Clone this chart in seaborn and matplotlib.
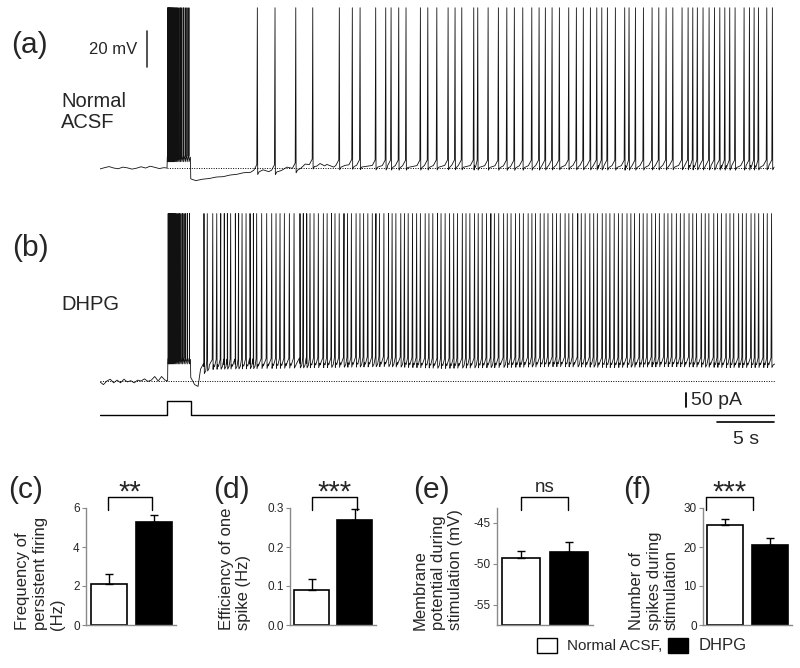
"""
Persistent firing traces (a, b) plus summary bar charts (c-f).
"""

import numpy as np
import pandas as pd
import matplotlib
matplotlib.use("Agg")
import matplotlib.pyplot as plt
import seaborn as sns
from matplotlib.lines import Line2D
from matplotlib.patches import Rectangle

# ---------------- trace data (time in s, voltage in mV) ----------------
T_END = 59.2
STIM_ON, STIM_OFF = 5.9, 7.95
STIM_PA = 50
REST_MV = -60

# (a) Normal ACSF
wave_a_t = [0, 0.4, 0.8, 1.2, 1.6, 2.0, 2.4, 2.8, 3.2, 3.6, 4.0, 4.4, 4.8, 5.2, 5.6, 5.88,
            5.9, 7.93, 7.96, 8.4, 9.0, 9.6, 10.2, 10.8, 11.4, 12.0, 12.6, 13.2, 14.3,
            14.8, 15.9, 16.4, 16.9, 17.6, 18.0, 19.0, 19.3, 19.7, 19.9, 20.5, 21.5,
            23.0, 27.0, 31.0, 36.0, 41.0, 46.0, 51.0, 56.0, 59.2]
wave_a_v = [-60.5, -59.8, -59.2, -60.0, -60.4, -59.5, -59.9, -60.6, -60.1, -59.3, -60.0,
            -59.0, -59.6, -60.3, -59.8, -60.0,
            -54.0, -54.0, -66.0, -67.0, -66.2, -65.8, -65.0, -64.8, -63.9, -63.5, -62.6,
            -62.4, -61.0, -62.0, -61.4, -59.5, -61.0, -60.2, -57.8, -59.0, -57.5, -58.8,
            -58.0, -59.5, -58.5, -59.0, -59.2, -59.0, -59.3, -59.0, -59.2,
            -59.0, -59.2, -59.0]
burst_a = [5.93, 5.99, 6.05, 6.11, 6.17, 6.24, 6.31, 6.38, 6.46, 6.54, 6.63, 6.72,
           6.82, 6.93, 7.05, 7.18, 7.32, 7.47, 7.63, 7.80]
spikes_a = [13.80, 15.35, 17.17, 18.66, 20.99, 22.13, 22.81, 24.18, 25.06, 25.53,
            26.20, 26.84, 28.10, 28.75, 29.54, 30.53, 31.14, 31.73, 32.78, 33.13,
            34.04, 34.94, 35.68, 36.34, 37.08, 37.87, 38.51, 39.06, 39.65, 40.29,
            41.11, 41.78, 42.39, 43.01, 43.57, 44.01, 44.50, 45.20, 46.02, 46.40,
            46.96, 47.66, 48.42, 49.01, 49.65, 50.24, 51.05, 51.58, 51.99, 52.39,
            52.89, 53.42, 53.89, 54.36, 54.80, 55.23, 55.70, 56.49, 56.96, 57.37,
            57.75, 58.48, 58.97]
peak_a = 29

# (b) DHPG
wave_b_t = [0, 0.3, 0.6, 0.9, 1.2, 1.5, 1.8, 2.1, 2.4, 2.7, 3.0, 3.3, 3.6, 3.9, 4.2,
            4.5, 4.8, 5.1, 5.4, 5.7, 5.93,
            5.95, 7.93, 7.96, 8.3, 8.6, 8.9, 9.1, 9.5, 10.0, 15.0, 20.0, 25.0, 30.0,
            35.0, 40.0, 45.0, 50.0, 55.0, 59.2]
wave_b_v = [-60.5, -62.0, -60.0, -59.0, -61.0, -59.5, -61.0, -59.0, -60.5, -59.8,
            -61.0, -59.5, -60.0, -58.8, -60.2, -59.5, -57.5, -60.0, -57.5, -59.5, -60.0,
            -48.0, -48.0, -58.0, -62.0, -63.0, -61.0, -54.0, -52.0, -51.5, -51.0,
            -50.5, -50.0, -51.0, -50.5, -50.0, -50.5, -50.0, -50.5, -50.5]
burst_b = [5.98, 6.04, 6.10, 6.17, 6.24, 6.31, 6.39, 6.47, 6.56, 6.65, 6.75, 6.86,
           6.98, 7.10, 7.23, 7.37, 7.52, 7.68, 7.85]
spikes_b = [9.12, 9.41, 9.89, 10.24, 10.59, 10.90, 11.17, 11.46, 11.87, 12.16, 12.46,
            12.81, 13.16, 13.45, 13.74, 14.18, 14.62, 15.06, 15.44, 15.79, 16.17,
            16.61, 17.02, 17.54, 17.83, 18.13, 18.42, 18.77, 19.15, 19.59, 19.92,
            20.30, 20.61, 20.98, 21.40, 21.71, 22.05, 22.46, 22.80, 23.12, 23.49,
            23.88, 24.20, 24.51, 24.90, 25.31, 25.62, 25.95, 26.38, 26.70, 27.03,
            27.41, 27.77, 28.10, 28.52, 28.85, 29.19, 29.60, 29.91, 30.27, 30.66,
            31.02, 31.35, 31.78, 32.10, 32.44, 32.85, 33.17, 33.52, 33.90, 34.28,
            34.59, 34.97, 35.40, 35.72, 36.05, 36.44, 36.80, 37.13, 37.55, 37.88,
            38.20, 38.61, 38.95, 39.29, 39.70, 40.04, 40.37, 40.79, 41.12, 41.46,
            41.90, 42.21, 42.55, 42.96, 43.30, 43.62, 44.05, 44.38, 44.72, 45.10,
            45.47, 45.80, 46.22, 46.56, 46.88, 47.31, 47.64, 47.98, 48.39, 48.72,
            49.06, 49.48, 49.81, 50.15, 50.55, 50.90, 51.23, 51.66, 51.99, 52.32,
            52.74, 53.08, 53.40, 53.83, 54.16, 54.50, 54.91, 55.25, 55.58, 56.01,
            56.34, 56.68, 57.10, 57.43, 57.77, 58.19, 58.52, 58.90]
peak_b = 33

# ---------------- bar data (mean, SEM) ----------------
groups = ["Normal ACSF", "DHPG"]
freq_mean, freq_sem = [2.1, 5.3], [0.5, 0.35]
eff_mean, eff_sem = [0.09, 0.27], [0.028, 0.027]
vm_mean, vm_sem = [-49.35, -48.6], [0.85, 1.3]
nspk_mean, nspk_sem = [25.6, 20.4], [1.5, 2.0]

W, H = 800, 668

sns.set_style("white")
plt.rcParams["font.family"] = ["Liberation Sans", "DejaVu Sans"]

fig = plt.figure(figsize=(W / 100, H / 100), dpi=100)


def px_axes(left, top, right, bottom):
    return fig.add_axes([left / W, 1 - bottom / H, (right - left) / W, (bottom - top) / H])


def fx(x):
    return x / W


def fy(y):
    return 1 - y / H


def build_trace(wt, wv, spikes, burst, peak):
    """Combine slow waveform points with spike shapes into one polyline."""
    wt = np.asarray(wt, float)
    wv = np.asarray(wv, float)
    sp = np.asarray(spikes, float)
    keep = np.array([np.all(np.abs(sp - t) > 0.3) for t in wt])
    t_pts = list(wt[keep])
    v_pts = list(wv[keep])
    for s in sp:
        b = np.interp(s, wt, wv)
        for dt, dv in [(-0.3, 0.5), (-0.05, 3.5), (0, None), (0.03, -2.0), (0.15, -0.5)]:
            t_pts.append(s + dt)
            v_pts.append(peak if dv is None else b + dv)
    for s in burst:
        b = np.interp(s, wt, wv)
        for dt, dv in [(-0.008, 1.0), (0, None), (0.008, -2.5)]:
            t_pts.append(s + dt)
            v_pts.append(peak if dv is None else b + dv)
    t_pts = np.array(t_pts)
    v_pts = np.array(v_pts)
    order = np.argsort(t_pts, kind="stable")
    return t_pts[order], v_pts[order]


# ---------------- trace (a) ----------------
ax_a = px_axes(100, 0, 775, 190)
ta, va = build_trace(wave_a_t, wave_a_v, spikes_a, burst_a, peak_a)
sns.lineplot(x=ta, y=va, ax=ax_a, color="#111111", lw=0.6, sort=False, estimator=None)
ax_a.hlines(REST_MV, STIM_ON, T_END, colors="black", linestyles=(0, (1, 1.5)), lw=0.7)
ax_a.set_xlim(0, T_END)
ax_a.set_ylim(-72.2, 33.3)
ax_a.plot([4.12, 4.12], [-4, 16], color="#333333", lw=1.2, clip_on=False)
ax_a.text(3.3, 6, "20 mV", ha="right", va="center", fontsize=12)
ax_a.axis("off")

# ---------------- trace (b) ----------------
ax_b = px_axes(100, 195, 775, 392)
tb, vb = build_trace(wave_b_t, wave_b_v, spikes_b, burst_b, peak_b)
sns.lineplot(x=tb, y=vb, ax=ax_b, color="#111111", lw=0.6, sort=False, estimator=None)
ax_b.hlines(REST_MV, 0, T_END, colors="black", linestyles=(0, (1, 1.5)), lw=0.7)
ax_b.set_xlim(0, T_END)
ax_b.set_ylim(-66.1, 43.3)
ax_b.axis("off")

# ---------------- stimulus current ----------------
ax_i = px_axes(100, 388, 775, 450)
cur_t = [0, STIM_ON, STIM_ON, STIM_OFF, STIM_OFF, T_END]
cur_v = [0, 0, STIM_PA, STIM_PA, 0, 0]
ax_i.plot(cur_t, cur_v, color="black", lw=1.0)
ax_i.set_xlim(0, T_END)
ax_i.set_ylim(-125, 96.4)
ax_i.plot([51.4, 51.4], [28.6, 78.6], color="black", lw=1.3)
ax_i.text(51.85, 53, "50 pA", ha="left", va="center", fontsize=14)
ax_i.plot([54.1, 59.1], [-25, -25], color="black", lw=1.2)
ax_i.text(56.7, -89, "5 s", ha="center", va="center", fontsize=14)
ax_i.axis("off")

fig.text(fx(11), fy(45), "(a)", fontsize=21.5, ha="left", va="center")
fig.text(fx(12), fy(248), "(b)", fontsize=21.5, ha="left", va="center")
fig.text(fx(61), fy(112), "Normal\nACSF", fontsize=14.5, ha="left", va="center",
         linespacing=1.15)
fig.text(fx(61), fy(305), "DHPG", fontsize=14.5, ha="left", va="center")


# ---------------- bar panels ----------------
def bar_panel(rect, means, sems, ylim, yticks, ticklabels, ylabel, label_x,
              tag, tag_x, sig, br):
    ax = px_axes(*rect)
    base = ylim[0]
    df = pd.DataFrame({"group": groups, "height": [m - base for m in means]})
    sns.barplot(data=df, x="group", y="height", hue="group",
                palette=["white", "black"], edgecolor="black", linewidth=1.2,
                width=0.8, errorbar=None, legend=False, ax=ax, bottom=base)
    ax.errorbar([0, 1], means, yerr=[[0, 0], sems], fmt="none", ecolor="black",
                elinewidth=1.0, capsize=3, capthick=1.0, zorder=1)
    ax.set_xlim(-0.5, 1.5)
    ax.set_ylim(*ylim)
    ax.set_yticks(yticks)
    ax.set_yticklabels(ticklabels)
    ax.set_xticks([])
    ax.set_xlabel("")
    ax.set_ylabel("")
    for side in ["top", "right"]:
        ax.spines[side].set_visible(False)
    for side in ["left", "bottom"]:
        ax.spines[side].set_color("#8a8a8a")
        ax.spines[side].set_linewidth(1.0)
    ax.tick_params(axis="y", direction="out", length=3, width=0.8, color="#8a8a8a",
                   labelsize=8.5, pad=1.5, left=True)

    fig.text(fx(label_x), fy(630), ylabel, rotation=90, ha="center", va="bottom",
             multialignment="left", fontsize=12, linespacing=1.2)
    fig.text(fx(tag_x), fy(490), tag, fontsize=21.5, ha="left", va="center")

    x0, x1, ytop, yleg = br
    fig.add_artist(Line2D([fx(x0), fx(x0), fx(x1), fx(x1)],
                          [fy(yleg), fy(ytop), fy(ytop), fy(yleg)],
                          color="black", lw=1.0))
    if sig == "ns":
        fig.text(fx((x0 + x1) / 2), fy(ytop - 10), sig, fontsize=13.5,
                 ha="center", va="center")
    else:
        fig.text(fx((x0 + x1) / 2), fy(ytop - 4), sig, fontsize=21,
                 ha="center", va="center")
    return ax


bar_panel((86, 508, 176, 625), freq_mean, freq_sem, (0, 6), [0, 2, 4, 6],
          ["0", "2", "4", "6"], "Frequency of\npersistent firing\n(Hz)", 40,
          "(c)", 8, "**", (108, 152, 497, 510))
bar_panel((290, 508, 376, 625), eff_mean, eff_sem, (0, 0.3), [0, 0.1, 0.2, 0.3],
          ["0.0", "0.1", "0.2", "0.3"], "Efficiency of one\nspike (Hz)", 235,
          "(d)", 213, "***", (312, 357, 497, 510))
bar_panel((497, 508, 593, 625), vm_mean, vm_sem, (-57.5, -43.2), [-55, -50, -45],
          ["-55", "-50", "-45"], "Membrane\npotential during\nstimulation (mV)", 438,
          "(e)", 413, "ns", (521, 568, 497, 510))
bar_panel((703, 508, 792, 625), nspk_mean, nspk_sem, (0, 30), [0, 10, 20, 30],
          ["0", "10", "20", "30"], "Number of\nspikes during\nstimulation", 654,
          "(f)", 623, "***", (706, 753, 497, 510))

# ---------------- legend ----------------
fig.add_artist(Rectangle((fx(537), fy(653)), 20 / W, 15 / H, facecolor="white",
                         edgecolor="black", lw=1.0, transform=fig.transFigure))
fig.text(fx(567), fy(646), "Normal ACSF,", fontsize=11, ha="left", va="center")
fig.add_artist(Rectangle((fx(668), fy(653)), 20 / W, 15 / H, facecolor="black",
                         edgecolor="black", lw=1.0, transform=fig.transFigure))
fig.text(fx(699), fy(646), "DHPG", fontsize=12, ha="left", va="center")

fig.savefig("out.png", dpi=100)
